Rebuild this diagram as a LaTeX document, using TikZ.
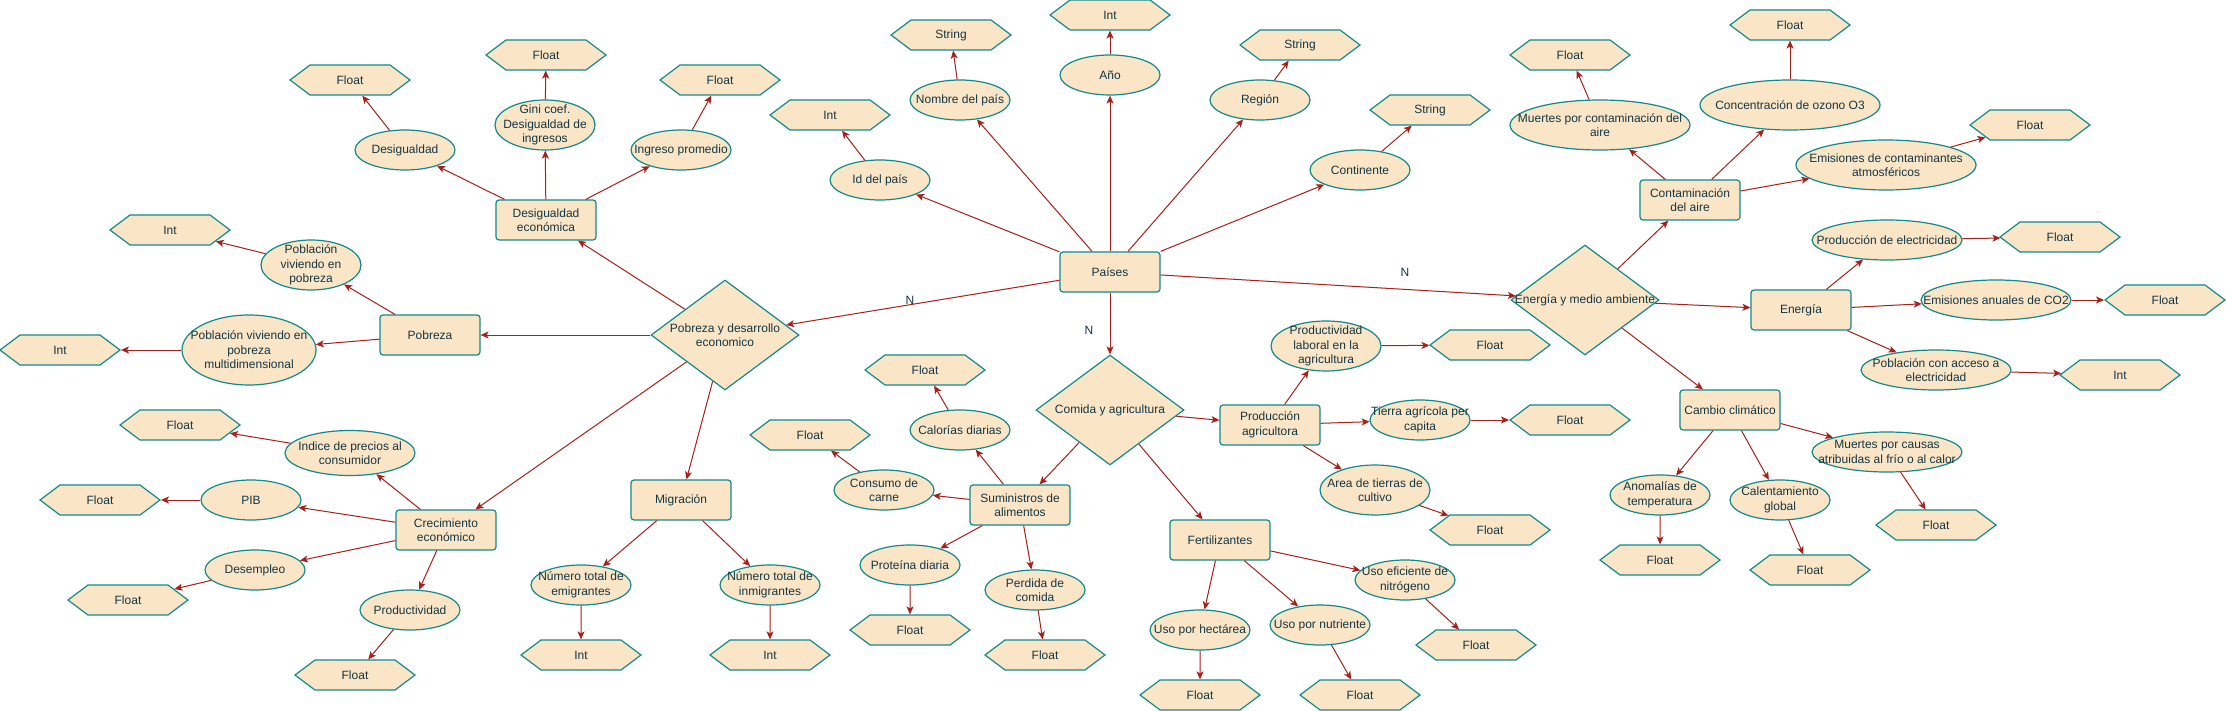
\documentclass[tikz,border=0pt]{standalone}
\usepackage{fontspec}
\setmainfont{Liberation Sans}
\usetikzlibrary{shapes.geometric,shapes.symbols,arrows.meta}
\definecolor{cfill}{HTML}{FAE5C7}
\definecolor{cline}{HTML}{0F8B8D}
\definecolor{carrow}{HTML}{A8201A}
\definecolor{ctext}{HTML}{143642}
\tikzset{
  base/.style={fill=cfill,draw=cline,line width=1.2pt,inner sep=0pt},
  lab/.style={align=center,font=\fontsize{12pt}{14.4pt}\selectfont,text=ctext,inner sep=0pt},
  entity/.style={base,rectangle,rounded corners=3pt,minimum width=100pt,minimum height=40pt},
  relat/.style={base,diamond,minimum width=148pt,minimum height=110pt},
  attr/.style={base,ellipse},
  typebox/.style={base,signal,signal to=west and east,signal pointer angle=73.74,
     minimum width=120pt,minimum height=30pt,font=\fontsize{12pt}{14.4pt}\selectfont,text=ctext},
  arr/.style={draw=carrow,line width=1pt,-{Stealth[length=8pt,width=7pt,inset=2pt]}},
  nlab/.style={font=\fontsize{12pt}{14.4pt}\selectfont,text=ctext}
}
\newcommand\mkent[3]{\node[entity,label={[lab]center:{#3}}] (#1) at (#2) {};}
\newcommand\mkrel[3]{\node[relat,label={[lab]center:{#3}}] (#1) at (#2) {};}
\newcommand\mkatt[5]{\node[attr,minimum width=#3pt,minimum height=#4pt,label={[lab]center:{#5}}] (#1) at (#2) {};}
\newcommand\mktyp[3]{\node[typebox] (#1) at (#2) {#3};}
\begin{document}
\begin{tikzpicture}[x=1pt,y=-1pt]
\fill[white] (0,0) rectangle (2226,711);
\useasboundingbox (0,0) rectangle (2226,711);
% entities
\mkent{paises}{1110,272}{Países}
\mkent{desec}{546,220}{Desigualdad\\económica}
\mkent{pobreza}{430,335}{Pobreza}
\mkent{crec}{446,530}{Crecimiento\\económico}
\mkent{migr}{681,500}{Migración}
\mkent{sumi}{1020,505}{Suministros de\\alimentos}
\mkent{prodag}{1270,425}{Producción\\agricultora}
\mkent{fert}{1220,540}{Fertilizantes}
\mkent{contam}{1690,200}{Contaminación\\del aire}
\mkent{energia}{1801,310}{Energía}
\mkent{cambio}{1730,410}{Cambio climático}
% relations
\mkrel{dpob}{725,335}{Pobreza y desarrollo\\economico}
\mkrel{dcom}{1110,410}{Comida y agricultura}
\mkrel{dener}{1585,300}{Energía y medio ambiente}
% attributes
\mkatt{id}{880,180}{100}{40}{Id del país}
\mkatt{nombre}{960,100}{100}{40}{Nombre del país}
\mkatt{anio}{1110,75}{100}{40}{Año}
\mkatt{region}{1260,100}{100}{40}{Región}
\mkatt{contin}{1360,170}{100}{40}{Continente}
\mkatt{desig}{405,150}{100}{40}{Desigualdad}
\mkatt{gini}{545,125}{100}{50}{Gini coef.\\Desigualdad de\\ingresos}
\mkatt{ingreso}{681,150}{100}{40}{Ingreso promedio}
\mkatt{pvp}{311,265}{100}{50}{Población\\viviendo en\\pobreza}
\mkatt{pvpm}{249,350}{134}{70}{Población viviendo en\\pobreza\\multidimensional}
\mkatt{indice}{350,453}{130}{45}{Indice de precios al\\consumidor}
\mkatt{pib}{251,500}{100}{40}{PIB}
\mkatt{desem}{255,570}{100}{40}{Desempleo}
\mkatt{produc}{410,610}{100}{40}{Productividad}
\mkatt{emig}{581,585}{100}{40}{Número total de\\emigrantes}
\mkatt{inmig}{770,585}{100}{40}{Número total de\\inmigrantes}
\mkatt{calor}{960,430}{100}{40}{Calorías diarias}
\mkatt{carne}{884,490}{100}{40}{Consumo de\\carne}
\mkatt{prot}{910,565}{100}{40}{Proteína diaria}
\mkatt{perd}{1035,590}{100}{40}{Perdida de\\comida}
\mkatt{plab}{1326,346}{110}{50}{Productividad\\laboral en la\\agricultura}
\mkatt{tierra}{1420,420}{100}{40}{Tierra agrícola per\\capita}
\mkatt{area}{1375,490}{110}{50}{Area de tierras de\\cultivo}
\mkatt{hect}{1200,630}{100}{40}{Uso por hectárea}
\mkatt{nutr}{1320,625}{100}{40}{Uso por nutriente}
\mkatt{nitro}{1405,580}{100}{40}{Uso eficiente de\\nitrógeno}
\mkatt{muerte}{1600,125}{180}{50}{Muertes por contaminación del\\aire}
\mkatt{ozono}{1790,105}{180}{50}{Concentración de ozono O3}
\mkatt{emic}{1886,165}{180}{50}{Emisiones de contaminantes\\atmosféricos}
\mkatt{elec}{1887,240}{150}{40}{Producción de electricidad}
\mkatt{co2}{1996,300}{150}{40}{Emisiones anuales de CO2}
\mkatt{acceso}{1936,370}{150}{40}{Población con acceso a\\electricidad}
\mkatt{anom}{1660,495}{100}{40}{Anomalías de\\temperatura}
\mkatt{calent}{1780,500}{100}{40}{Calentamiento\\global}
\mkatt{mcausa}{1887,452}{150}{40}{Muertes por causas\\atribuidas al frío o al calor}
% types
\mktyp{tid}{830,115}{Int}
\mktyp{tnombre}{951,35}{String}
\mktyp{tanio}{1110,15}{Int}
\mktyp{tregion}{1300,45}{String}
\mktyp{tcontin}{1430,110}{String}
\mktyp{tdesig}{350,80}{Float}
\mktyp{tgini}{546,55}{Float}
\mktyp{tingreso}{720,80}{Float}
\mktyp{tpvp}{170,230}{Int}
\mktyp{tpvpm}{60,350}{Int}
\mktyp{tindice}{180,425}{Float}
\mktyp{tpib}{100,500}{Float}
\mktyp{tdesem}{128,600}{Float}
\mktyp{tproduc}{355,675}{Float}
\mktyp{temig}{581,655}{Int}
\mktyp{tinmig}{770,655}{Int}
\mktyp{tcalor}{925,370}{Float}
\mktyp{tcarne}{810,435}{Float}
\mktyp{tprot}{910,630}{Float}
\mktyp{tperd}{1045,655}{Float}
\mktyp{tplab}{1490,345}{Float}
\mktyp{ttierra}{1570,420}{Float}
\mktyp{tarea}{1490,530}{Float}
\mktyp{thect}{1200,695}{Float}
\mktyp{tnutr}{1360,695}{Float}
\mktyp{tnitro}{1476,645}{Float}
\mktyp{tmuerte}{1570,55}{Float}
\mktyp{tozono}{1790,25}{Float}
\mktyp{temic}{2030,125}{Float}
\mktyp{telec}{2060,237}{Float}
\mktyp{tco2}{2165,300}{Float}
\mktyp{tacceso}{2120,375}{Int}
\mktyp{tanom}{1660,560}{Float}
\mktyp{tcalent}{1810,570}{Float}
\mktyp{tmcausa}{1936,525}{Float}
% N labels
\node[nlab] (n1) at (910,300) {N};
\node[nlab] (n2) at (1089,330) {N};
\node[nlab] (n3) at (1405,272) {N};
% edges
\foreach \a/\b in {paises/id,paises/nombre,paises/anio,paises/region,paises/contin,
  id/tid,nombre/tnombre,anio/tanio,region/tregion,contin/tcontin,
  paises/dpob,paises/dcom,paises/dener,
  dpob/desec,dpob/pobreza,dpob/crec,dpob/migr,
  desec/desig,desec/gini,desec/ingreso,desig/tdesig,gini/tgini,ingreso/tingreso,
  pobreza/pvp,pobreza/pvpm,pvp/tpvp,pvpm/tpvpm,
  crec/indice,crec/pib,crec/desem,crec/produc,indice/tindice,pib/tpib,desem/tdesem,produc/tproduc,
  migr/emig,migr/inmig,emig/temig,inmig/tinmig,
  dcom/sumi,dcom/prodag,dcom/fert,
  sumi/calor,sumi/carne,sumi/prot,sumi/perd,calor/tcalor,carne/tcarne,prot/tprot,perd/tperd,
  prodag/plab,prodag/tierra,prodag/area,plab/tplab,tierra/ttierra,area/tarea,
  fert/hect,fert/nutr,fert/nitro,hect/thect,nutr/tnutr,nitro/tnitro,
  dener/contam,dener/energia,dener/cambio,
  contam/muerte,contam/ozono,contam/emic,muerte/tmuerte,ozono/tozono,emic/temic,
  energia/elec,energia/co2,energia/acceso,elec/telec,co2/tco2,acceso/tacceso,
  cambio/anom,cambio/calent,cambio/mcausa,anom/tanom,calent/tcalent,mcausa/tmcausa}
  \draw[arr] (\a) -- (\b);
\end{tikzpicture}
\end{document}
